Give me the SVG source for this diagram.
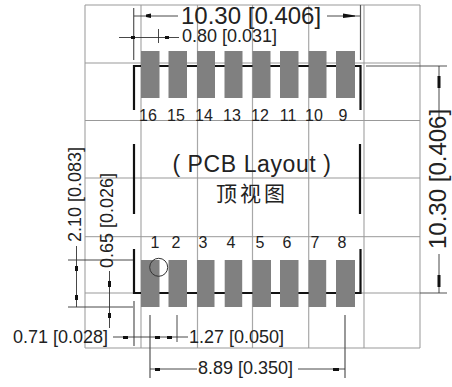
<svg xmlns="http://www.w3.org/2000/svg" width="452" height="387" viewBox="0 0 452 387">
<style>
text{font-family:"Liberation Sans","Noto Sans CJK SC",sans-serif;fill:#222}
.g{stroke:#a8a8a8;stroke-width:1.2;fill:none}
.h{stroke:#999;stroke-width:1;fill:none}
.p{fill:#808080}
.b{stroke:#111;stroke-width:2.2;fill:none}
.d{stroke:#333;stroke-width:.9;fill:none}
.t{stroke:#555;stroke-width:1.2;fill:none}
.a{fill:#111}
.n{font-size:16px;text-anchor:middle}
.s{font-size:18px}
.l{font-size:24px}
</style>
<rect width="452" height="387" fill="#fff"/>
<g id="grid">
<path class="g" d="M85 5V348M141 5V348M197.500 5V348M252.500 5V348M308.700 5V348M364 5V348M420 5V348"/>
<path class="h" d="M85 5H420M85 63H420M85 120.500H420M85 178H420M85 236.700H420M85 293H420M85 348H420"/>
</g>
<g id="outline">
<path class="b" d="M134 110V66H360.500V110M134 144V214M360 144V214M134 249V293H360.500V249"/>
</g>
<g id="pads-top">
<rect class="p" x="141" y="51" width="18.500" height="47"/><rect class="p" x="168.500" y="51" width="18.500" height="47"/><rect class="p" x="197" y="51" width="18" height="47"/><rect class="p" x="224.500" y="51" width="18" height="47"/><rect class="p" x="252.500" y="51" width="18" height="47"/><rect class="p" x="280" y="51" width="18.500" height="47"/><rect class="p" x="308.700" y="51" width="17.800" height="47"/><rect class="p" x="336" y="51" width="19" height="47"/>
</g>
<g id="pads-bottom">
<rect class="p" x="141" y="260" width="18.500" height="47"/><rect class="p" x="168.500" y="260" width="18.500" height="47"/><rect class="p" x="197" y="260" width="17.500" height="47"/><rect class="p" x="224.700" y="260" width="17.500" height="47"/><rect class="p" x="252.500" y="260" width="18.500" height="47"/><rect class="p" x="280" y="260" width="18.500" height="47"/><rect class="p" x="308.700" y="260" width="17.500" height="47"/><rect class="p" x="336" y="260" width="19" height="47"/>
<circle cx="158.700" cy="267.300" r="9" fill="none" stroke="#333" stroke-width="1"/>
</g>
<g id="labels">
<text class="n" x="148" y="121">16</text><text class="n" x="176" y="121">15</text><text class="n" x="204" y="121">14</text><text class="n" x="232" y="121">13</text><text class="n" x="260" y="121">12</text><text class="n" x="288" y="121">11</text><text class="n" x="314" y="121">10</text><text class="n" x="343" y="121">9</text>
<text class="n" x="155" y="248">1</text><text class="n" x="176" y="248">2</text><text class="n" x="203" y="248">3</text><text class="n" x="231" y="248">4</text><text class="n" x="260" y="248">5</text><text class="n" x="287" y="248">6</text><text class="n" x="315" y="248">7</text><text class="n" x="342" y="248">8</text>
<text x="252" y="172" font-size="23" text-anchor="middle" letter-spacing=".6">( PCB Layout )</text>
<text x="252" y="201" font-size="21" text-anchor="middle" letter-spacing="3">顶视图</text>
</g>
<g id="connectors">
<path class="t" d="M133.700 8V60M360.500 5V60M366 66H447M420 293H447M134 301V346M150 315V378M345 315V378"/>
<path class="d" d="M134 16H178M327 16H360M119 37.500H179M158.500 29V43M439 66V118M439 254V293M68 260H133M68 307H133M76.500 246V307M109.500 271V328M113 337H188M177 315V342M150 369H197M298 369H345"/>
<path class="a" d="M146 14.500L151 13.500V18L146 17ZM343 13.500L355 15.500V16.500L343 18ZM131 36H135V39H131ZM165 36H169V39H165ZM437.500 76H440.500V88H437.500ZM437.500 275H440.500V287H437.500ZM75 266H78V271H75ZM75 295H78V300H75ZM108 281H111V287H108ZM108 313H111V318H108ZM123 336H128V339H123ZM155 336H160V339H155ZM167 336H172V339H167ZM155 368H160V371H155ZM333 368H339V371H333Z"/>
</g>
<g id="dimension-text">
<text class="l" x="181" y="23.500">10.30 [0.406]</text>
<text class="s" x="182" y="42">0.80 [0.031]</text>
<text class="l" transform="translate(446 249) rotate(-90)">10.30 [0.406]</text>
<text class="s" transform="translate(81 242) rotate(-90)">2.10 [0.083]</text>
<text class="s" transform="translate(113 268) rotate(-90)">0.65 [0.026]</text>
<text class="s" x="13" y="343">0.71 [0.028]</text>
<text class="s" x="189" y="343">1.27 [0.050]</text>
<text class="s" x="198" y="374">8.89 [0.350]</text>
</g>
</svg>
